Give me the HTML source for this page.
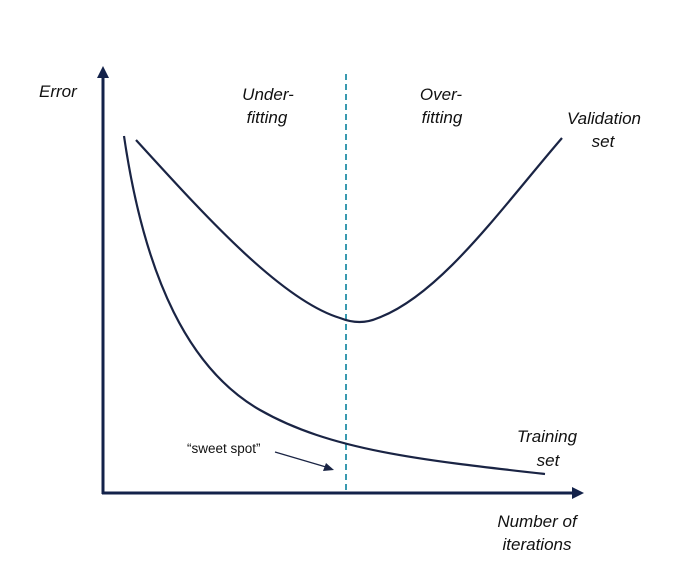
<!DOCTYPE html>
<html><head><meta charset="utf-8"><style>
html,body{margin:0;padding:0;background:#fff;}
svg{display:block;}
text{font-family:"Liberation Sans",sans-serif;fill:#111;}
.i{font-style:italic;font-size:17px;}
</style></head><body>
<svg width="674" height="587" viewBox="0 0 674 587" xmlns="http://www.w3.org/2000/svg">
<line x1="103" y1="494" x2="103" y2="76" stroke="#13224a" stroke-width="3"/>
<polygon points="103,66 97,78 109,78" fill="#13224a"/>
<line x1="102" y1="493" x2="574" y2="493" stroke="#13224a" stroke-width="3"/>
<polygon points="584,493 572,487 572,499" fill="#13224a"/>
<line x1="346" y1="74" x2="346" y2="490" stroke="#3a9ab0" stroke-width="2" stroke-dasharray="6,4"/>
<path d="M136,140 C 200,210 280,300 340,318 Q 360,326 378,318 C 440,295 500,210 562,138" fill="none" stroke="#1a2444" stroke-width="2.2"/>
<path d="M124,136 C 145,280 190,370 260,410 S 420,460 545,474" fill="none" stroke="#1a2444" stroke-width="2.2"/>
<line x1="275" y1="452" x2="326" y2="467" stroke="#1a2444" stroke-width="1.2"/>
<polygon points="334,470 323,471 326,463" fill="#1a2444"/>
<text x="187" y="453" font-size="13.5">“sweet spot”</text>
<text class="i" x="39" y="97">Error</text>
<text class="i" x="268" y="100" text-anchor="middle">Under-</text>
<text class="i" x="267" y="123" text-anchor="middle">fitting</text>
<text class="i" x="441" y="100" text-anchor="middle">Over-</text>
<text class="i" x="442" y="123" text-anchor="middle">fitting</text>
<text class="i" x="604" y="124" text-anchor="middle">Validation</text>
<text class="i" x="603" y="147" text-anchor="middle">set</text>
<text class="i" x="547" y="442" text-anchor="middle">Training</text>
<text class="i" x="548" y="466" text-anchor="middle">set</text>
<text class="i" x="537" y="527" text-anchor="middle">Number of</text>
<text class="i" x="537" y="550" text-anchor="middle">iterations</text>
</svg>
</body></html>
